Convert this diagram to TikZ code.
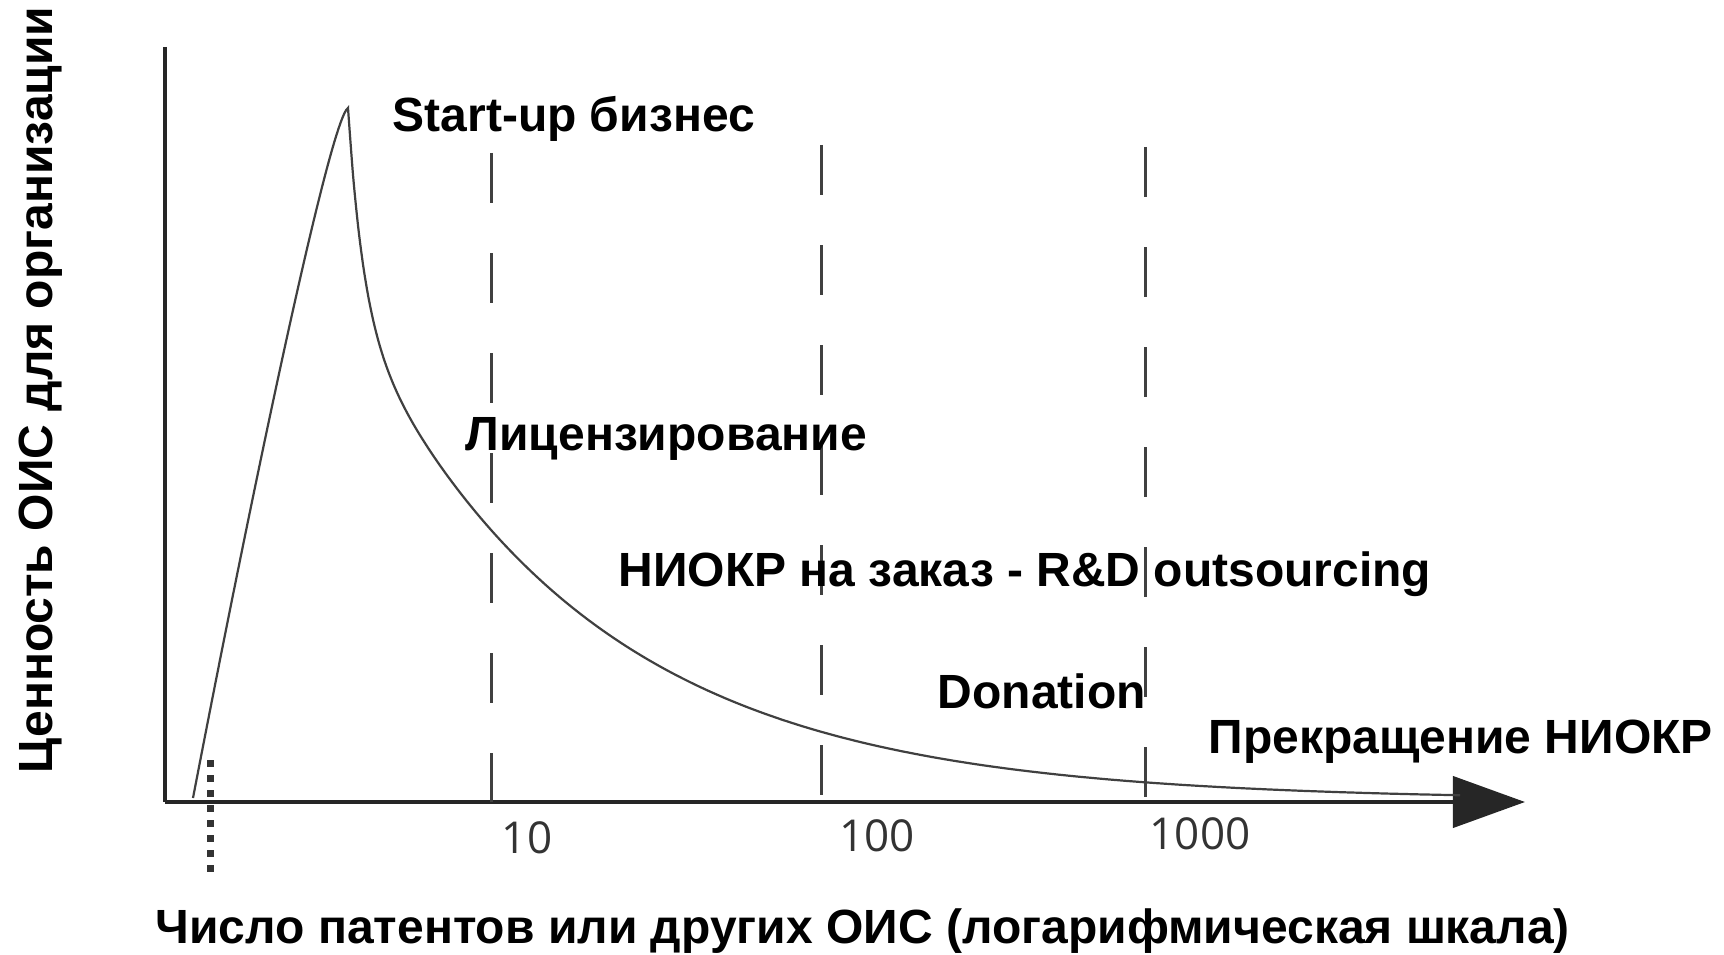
\documentclass[tikz,border=0pt]{standalone}
\usepackage{fontspec}
\setmainfont{Liberation Sans}
\newfontfamily\tickfont{Open Sans}
\usetikzlibrary{arrows.meta}

\begin{document}
\begin{tikzpicture}[x=0.01cm,y=-0.01cm,
    lbl/.style={font=\fontsize{13.65}{16}\selectfont\bfseries, inner sep=0pt, anchor=base west},
    tick/.style={font=\tickfont\fontsize{12.5}{15}\selectfont, text=black!80, inner sep=0pt},
    guide/.style={draw=black!75, line width=0.03cm, dash pattern=on 0.5cm off 0.5cm},
    axis/.style={draw=black!85, line width=0.04cm}]
  \useasboundingbox (0,0) rectangle (1724,955);
  % axes
  \coordinate (O) at (165,802);
  \coordinate (Ytop) at (165,47);
  \coordinate (Xend) at (1525,802);
  \draw[axis] (Ytop) -- (O);
  \draw[axis, -{Triangle[length=0.72cm,width=0.51cm]}] (O) -- (Xend);
  \draw[black!80, line width=0.07cm, dash pattern=on 0.07cm off 0.08cm] (210,760) -- (210,874);
  % boundaries 10 / 100 / 1000
  \foreach \x/\t in {491/153, 821/145, 1145/147}
    \draw[guide] (\x,\t) -- (\x,802);
  % value curve: quick rise, then decay
  \coordinate (Cstart) at (193,798);
  \coordinate (Cpeak) at (348,108);
  \draw[black!75, line width=0.022cm] (Cstart) .. controls (253,486) and (330,120) .. (Cpeak)
    -- plot[domain=348:1460, samples=220, smooth]
       (\x, {800 - 360*exp(-(\x-422)/240) - 202*exp(-(\x-348)/15.2)});
  % stages
  \node[lbl] (startup) at (392,132) {Start-up бизнес};
  \node[lbl] (lic) at (465,451) {Лицензирование};
  \node[lbl] (rnd) at (618,587) {НИОКР на заказ - R\&D outsourcing};
  \node[lbl] (don) at (937,708) {Donation};
  \node[lbl] (stop) at (1208,753) {Прекращение НИОКР};
  % ticks
  \node[tick] (t10) at (527,838) {10};
  \node[tick] (t100) at (877,836) {100};
  \node[tick] (t1000) at (1200,834) {1000};
  % axis titles
  \node[lbl] (xlabel) at (155,943) {Число патентов или других ОИС (логарифмическая шкала)};
  \node[lbl, rotate=90, anchor=base] (ylabel) at (52,390) {Ценность ОИС для организации};
\end{tikzpicture}
\end{document}
